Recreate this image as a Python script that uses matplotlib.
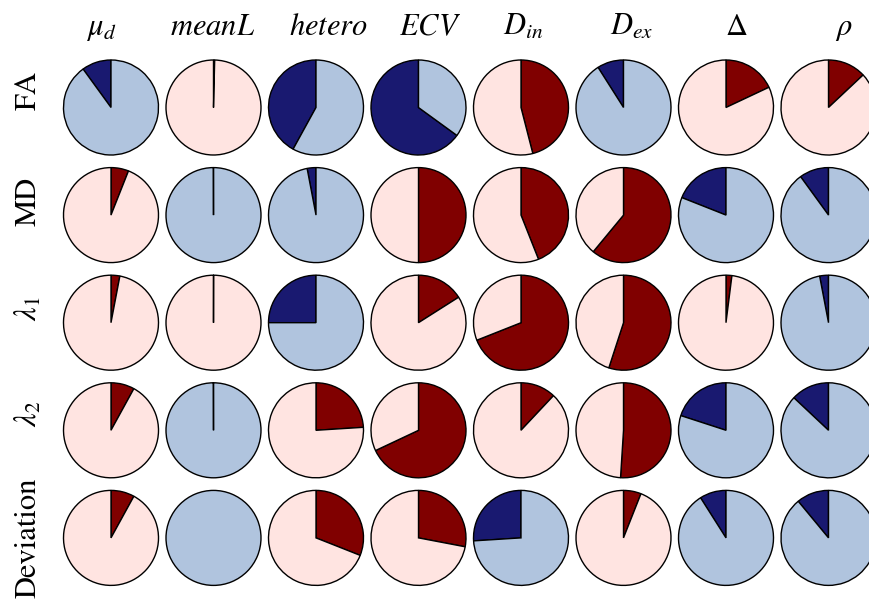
import numpy as np
import matplotlib
matplotlib.use('Agg')
import matplotlib.pyplot as plt

plt.rcParams['mathtext.fontset'] = 'stix'
plt.rcParams['font.family'] = ['STIXGeneral', 'Liberation Serif', 'DejaVu Serif']

# etichette colonne / righe
col_labels = [r'$\mu_d$', r'$meanL$', r'$hetero$', r'$ECV$', r'$D_{in}$', r'$D_{ex}$', r'$\Delta$', r'$\rho$']
row_labels = ['FA', 'MD', r'$\lambda_1$', r'$\lambda_2$', 'Deviation']

# correlazioni (nan = nessun valore)
r_FA  = [-0.10,  0.004, -0.42, -0.65, 0.46, -0.09, 0.18, 0.13]
r_MD  = [ 0.06, -0.0003, -0.03,  0.50, 0.44,  0.61, -0.19, -0.10]
r_L1  = [ 0.03,  0.0003, -0.25,  0.16, 0.69,  0.55, 0.02, -0.03]
r_L2  = [ 0.08, -0.0003,  0.24,  0.68, 0.12,  0.51, -0.20, -0.13]
r_DEV = [ 0.08,  np.nan, 0.31,  0.28, -0.26, 0.06, -0.09, -0.11]
corr = [r_FA, r_MD, r_L1, r_L2, r_DEV]

W, H = 869, 600
R = 47.5  # raggio in pixel
col_x = [111 + 102.5 * i for i in range(8)]
row_y = [107.5 + 107.6 * j for j in range(5)]
title_x = [101, 213, 328, 430, 523, 632, 736, 844]
label_y = [91, 201, 309, 414, 538]

fig = plt.figure(figsize=(W / 100, H / 100), dpi=100)

for j in range(5):
    for i in range(8):
        cx, cy = col_x[i], row_y[j]
        ax = fig.add_axes([(cx - R) / W, 1 - (cy + R) / H, 2 * R / W, 2 * R / H])
        r = corr[j][i]
        wp = dict(edgecolor='black', linewidth=1.0)
        if np.isnan(r):
            patches, _ = ax.pie([1], colors=['lightsteelblue'], wedgeprops=wp)
        elif r >= 0:
            patches, _ = ax.pie([r, 1 - r], colors=['maroon', 'mistyrose'],
                                startangle=90, counterclock=False, wedgeprops=wp)
        else:
            patches, _ = ax.pie([-r, 1 + r], colors=['midnightblue', 'lightsteelblue'],
                                startangle=90, counterclock=True, wedgeprops=wp)
        for p in patches:
            p.set_clip_on(False)
        ax.set_xlim(-1, 1)
        ax.set_ylim(-1, 1)
        ax.set_aspect('auto')
        ax.axis('off')

for i in range(8):
    fig.text(title_x[i] / W, 1 - 35 / H, col_labels[i], fontsize=22,
             ha='center', va='baseline')

for j in range(5):
    fig.text(29 / W, 1 - label_y[j] / H, row_labels[j], fontsize=22,
             ha='center', va='center', rotation=90)

fig.savefig('out.png', dpi=100)
